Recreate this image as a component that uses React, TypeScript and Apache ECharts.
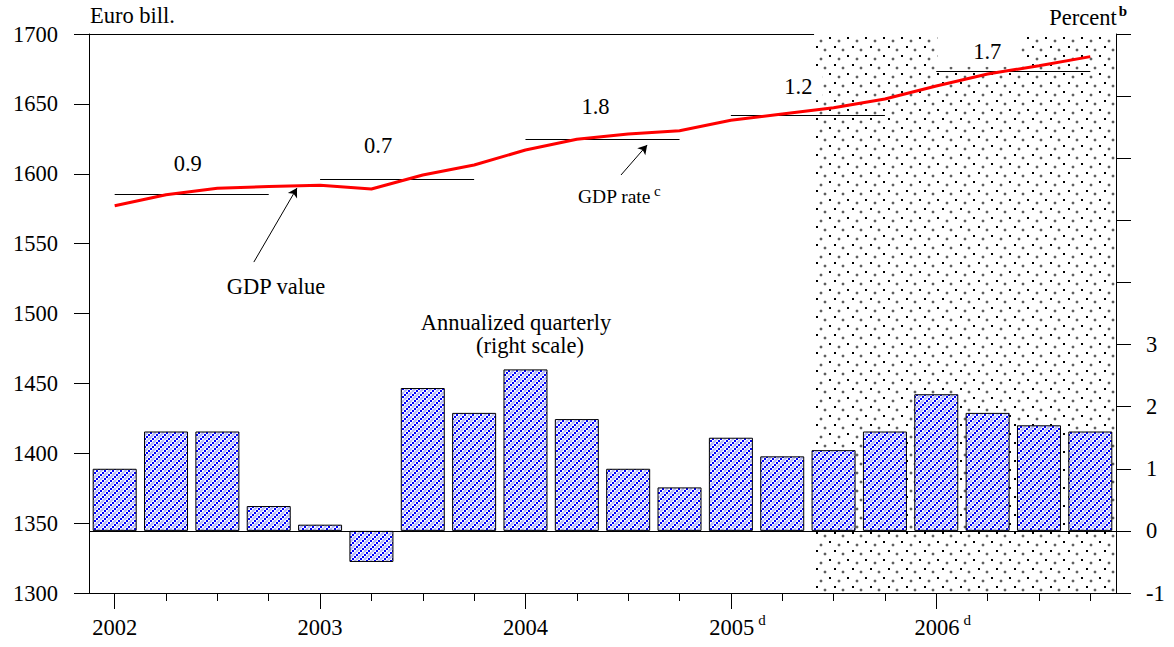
import React, { useEffect, useRef } from 'react';
import * as echarts from 'echarts';

// ---------- data ----------
const quarters = [
  '2002Q1', '2002Q2', '2002Q3', '2002Q4',
  '2003Q1', '2003Q2', '2003Q3', '2003Q4',
  '2004Q1', '2004Q2', '2004Q3', '2004Q4',
  '2005Q1', '2005Q2', '2005Q3', '2005Q4',
  '2006Q1', '2006Q2', '2006Q3', '2006Q4',
];
const yearLabels = ['2002', '2003', '2004', '2005', '2006'];
const yearNotes = ['', '', '', 'd', 'd'];

// GDP value, euro bill. (left scale)
const gdpValue = [
  1577.1, 1585.0, 1589.6, 1590.8,
  1591.7, 1589.1, 1599.1, 1606.3,
  1617.0, 1624.7, 1628.4, 1630.8,
  1638.3, 1642.8, 1647.3, 1653.5,
  1662.8, 1671.4, 1677.3, 1683.8,
];
// Annualized quarterly growth, percent (right scale)
const quarterlyRate = [
  1.0, 1.6, 1.6, 0.4,
  0.1, -0.5, 2.3, 1.9,
  2.6, 1.8, 1.0, 0.7,
  1.5, 1.2, 1.3, 1.6,
  2.2, 1.9, 1.7, 1.6,
];
// Annual average level (euro bill.) and annual GDP rate (percent)
const annualLevel = [1585.5, 1596.2, 1624.7, 1641.8, 1673.7];
const annualRate = ['0.9', '0.7', '1.8', '1.2', '1.7'];
// forecast period begins with this quarter
const forecastFrom = '2005Q3';

// right axis tick labels shown
const rightTicksShown = [-1, 0, 1, 2, 3];

// ---------- styles ----------
const FONT = "'Liberation Serif', 'Times New Roman', serif";
const FS = 22.5;
// per-year label placement (offset x, distance above line, padding)
const rateLabelStyle = [
  { dx: -4, dist: 17, pad: [2, 3, 2, 3] },
  { dx: -19, dist: 20, pad: [2, 3, 2, 3] },
  { dx: -7, dist: 19, pad: [2, 3, 2, 3] },
  { dx: -6, dist: 15, pad: [2, 10, 2, 3] },
  { dx: -34, dist: 4, pad: [4, 20, 4, 36] },
];

function makeHatch(): HTMLCanvasElement {
  const n = 8;
  const c = document.createElement('canvas');
  c.width = n;
  c.height = n;
  const g = c.getContext('2d')!;
  g.fillStyle = '#ffffff';
  g.fillRect(0, 0, n, n);
  g.strokeStyle = '#b0b4f6';
  g.lineWidth = 2;
  g.beginPath();
  for (const off of [-n, 0, n]) {
    g.moveTo(off - n / 2, n);
    g.lineTo(off + n / 2, 0);
  }
  g.stroke();
  g.fillStyle = '#0000ff';
  for (let i = 0; i < n; i += 2) {
    g.fillRect(i, n - 2 - i, 2, 2);
  }
  return c;
}

function makeDots(): HTMLCanvasElement {
  const n = 18;
  const c = document.createElement('canvas');
  c.width = n;
  c.height = n;
  const g = c.getContext('2d')!;
  g.fillStyle = '#ffffff';
  g.fillRect(0, 0, n, n);
  g.fillStyle = '#000000';
  g.fillRect(1, 1, 2, 2);
  g.fillRect(6, 10, 2, 2);
  const gray = (x: number, y: number) => {
    const grd = g.createRadialGradient(x, y, 0, x, y, 2.2);
    grd.addColorStop(0, '#333');
    grd.addColorStop(0.5, '#777');
    grd.addColorStop(1, 'rgba(255,255,255,0)');
    g.fillStyle = grd;
    g.fillRect(x - 3, y - 3, 6, 6);
  };
  gray(11, 5);
  gray(15, 14);
  return c;
}

export default function App() {
  const ref = useRef<HTMLDivElement>(null);

  useEffect(() => {
    if (!ref.current) return;
    const chart = echarts.init(ref.current, null, { renderer: 'svg' });

    const hatch = makeHatch();
    const dots = makeDots();
    const shadeStart = quarters.indexOf(forecastFrom) - 0.38;
    const lastIdx = quarters.length - 0.5;

    const catBase = { type: 'category', data: quarters, boundaryGap: true };

    const option: any = {
      animation: false,
      backgroundColor: '#ffffff',
      textStyle: { fontFamily: FONT },
      grid: { left: 89, right: 58, top: 34, bottom: 54, containLabel: false },
      xAxis: [
        {
          ...catBase,
          position: 'bottom',
          axisLine: { show: true, onZero: false, lineStyle: { color: '#000', width: 1 } },
          axisTick: { show: true, inside: false, alignWithLabel: true, interval: 0, length: 8, lineStyle: { color: '#000', width: 1 } },
          axisLabel: { show: false },
          splitLine: { show: false },
        },
        {
          ...catBase,
          position: 'bottom',
          axisLine: { show: false, onZero: false },
          axisTick: { show: true, inside: false, alignWithLabel: true, interval: 3, length: 16, lineStyle: { color: '#000', width: 1 } },
          axisLabel: {
            show: true,
            interval: 3,
            margin: 19,
            color: '#000',
            formatter: (_v: string, i: number) => {
              const k = Math.floor(i / 4);
              const note = yearNotes[k];
              return note ? `{yn|${yearLabels[k]}}{s|${note}}` : `{y|${yearLabels[k]}}`;
            },
            rich: {
              y: { fontFamily: FONT, fontSize: FS, lineHeight: 30, color: '#000' },
              yn: { fontFamily: FONT, fontSize: FS, lineHeight: 30, color: '#000', padding: [0, 0, 0, 13] },
              s: { fontFamily: FONT, fontSize: 15, verticalAlign: 'top', color: '#000', padding: [0, 0, 0, 4] },
            },
          },
          splitLine: { show: false },
        },
        { type: 'value', min: -0.5, max: lastIdx, show: false },
        {
          ...catBase,
          position: 'top',
          axisLine: { show: true, onZero: false, lineStyle: { color: '#000', width: 1 } },
          axisTick: { show: false },
          axisLabel: { show: false },
          splitLine: { show: false },
        },
      ],
      yAxis: [
        {
          type: 'value',
          position: 'left',
          min: 1300,
          max: 1700,
          interval: 50,
          axisLine: { show: true, onZero: false, lineStyle: { color: '#000' } },
          axisTick: { show: true, length: 15, lineStyle: { color: '#000' } },
          axisLabel: { fontFamily: FONT, fontSize: FS, color: '#000', margin: 31, formatter: (v: number) => String(v) },
          splitLine: { show: false },
        },
        {
          type: 'value',
          position: 'right',
          min: -1,
          max: 8,
          interval: 1,
          axisLine: { show: true, onZero: false, lineStyle: { color: '#000' } },
          axisTick: { show: true, length: 15, lineStyle: { color: '#000' } },
          axisLabel: {
            fontFamily: FONT,
            fontSize: FS,
            color: '#000',
            margin: 30,
            formatter: (v: number) => (rightTicksShown.indexOf(v) >= 0 ? String(v) : ''),
          },
          splitLine: { show: false },
        },
      ],
      series: [
        {
          type: 'line',
          name: 'forecast',
          xAxisIndex: 2,
          yAxisIndex: 0,
          data: [],
          z: 1,
          markArea: {
            silent: true,
            itemStyle: { color: { image: dots, repeat: 'repeat' } },
            data: [[{ xAxis: shadeStart }, { xAxis: lastIdx }]],
          },
        },
        {
          type: 'bar',
          name: 'Annualized quarterly',
          xAxisIndex: 0,
          yAxisIndex: 1,
          data: quarterlyRate,
          barWidth: 44,
          z: 2,
          itemStyle: {
            color: { image: hatch, repeat: 'repeat' },
            borderColor: '#000',
            borderWidth: 1,
          },
        },
        {
          type: 'line',
          name: 'zero',
          xAxisIndex: 2,
          yAxisIndex: 1,
          data: [],
          z: 3,
          markLine: {
            silent: true,
            symbol: 'none',
            label: { show: false },
            lineStyle: { color: '#000', width: 1, type: 'solid' },
            data: [{ yAxis: 0 }],
          },
        },
        {
          type: 'line',
          name: 'GDP rate',
          xAxisIndex: 2,
          yAxisIndex: 0,
          data: [],
          z: 4,
          markLine: {
            silent: true,
            symbol: 'none',
            lineStyle: { color: '#000', width: 1.2, type: 'solid' },
            data: annualLevel.map((lvl, k) => [
              {
                coord: [k * 4, lvl],
                label: {
                  show: true,
                  position: 'middle',
                  formatter: annualRate[k],
                  fontFamily: FONT,
                  fontSize: FS,
                  color: '#000',
                  backgroundColor: '#fff',
                  padding: rateLabelStyle[k].pad,
                  distance: rateLabelStyle[k].dist,
                  offset: [rateLabelStyle[k].dx, 0],
                },
              },
              { coord: [k * 4 + 3, lvl] },
            ]),
          },
        },
        {
          type: 'line',
          name: 'arrows',
          xAxisIndex: 2,
          yAxisIndex: 0,
          data: [],
          z: 4,
          markLine: {
            silent: true,
            symbol: ['none', 'arrow'],
            symbolSize: [8, 9],
            label: { show: false },
            lineStyle: { color: '#000', width: 1, type: 'solid' },
            data: [
              [{ coord: [2.71, 1536.8] }, { coord: [3.55, 1589.8] }],
              [{ coord: [9.86, 1599.1] }, { coord: [10.37, 1620.6] }],
            ],
          },
        },
        {
          type: 'line',
          name: 'GDP value',
          xAxisIndex: 0,
          yAxisIndex: 0,
          data: gdpValue,
          symbol: 'none',
          z: 6,
          lineStyle: { color: '#ff0000', width: 3 },
        },
      ],
      graphic: [
        {
          type: 'text',
          left: 90,
          top: 4,
          style: { text: 'Euro bill.', font: `${FS}px ${FONT}`, fill: '#000' },
        },
        {
          type: 'text',
          x: 1127,
          y: 17,
          style: {
            text: '{p|Percent}{b|b}',
            align: 'right',
            verticalAlign: 'middle',
            rich: {
              p: { fontFamily: FONT, fontSize: FS, lineHeight: 28, fill: '#000' },
              b: { fontFamily: FONT, fontSize: 15, fontWeight: 'bold', verticalAlign: 'top', fill: '#000', padding: [0, 0, 0, 2] },
            },
          },
        },
        {
          type: 'text',
          x: 276,
          y: 286,
          style: { text: 'GDP value', font: `${FS}px ${FONT}`, fill: '#000', align: 'center', verticalAlign: 'middle' },
        },
        {
          type: 'text',
          x: 578,
          y: 196,
          style: {
            text: '{a|GDP rate}{s|c}',
            align: 'left',
            verticalAlign: 'middle',
            rich: {
              a: { fontFamily: FONT, fontSize: 19.5, lineHeight: 26, fill: '#000' },
              s: { fontFamily: FONT, fontSize: 15, verticalAlign: 'top', fill: '#000', padding: [0, 0, 0, 3] },
            },
          },
        },
        {
          type: 'text',
          x: 516,
          y: 322,
          style: { text: 'Annualized quarterly', font: `${FS}px ${FONT}`, fill: '#000', align: 'center', verticalAlign: 'middle' },
        },
        {
          type: 'text',
          x: 530,
          y: 345,
          style: { text: '(right scale)', font: `${FS}px ${FONT}`, fill: '#000', align: 'center', verticalAlign: 'middle' },
        },
      ],
    };

    chart.setOption(option);
    return () => chart.dispose();
  }, []);

  return (
    <div
      ref={ref}
      style={{ position: 'fixed', left: 0, top: 0, width: 1174, height: 647, background: '#fff' }}
    />
  );
}
